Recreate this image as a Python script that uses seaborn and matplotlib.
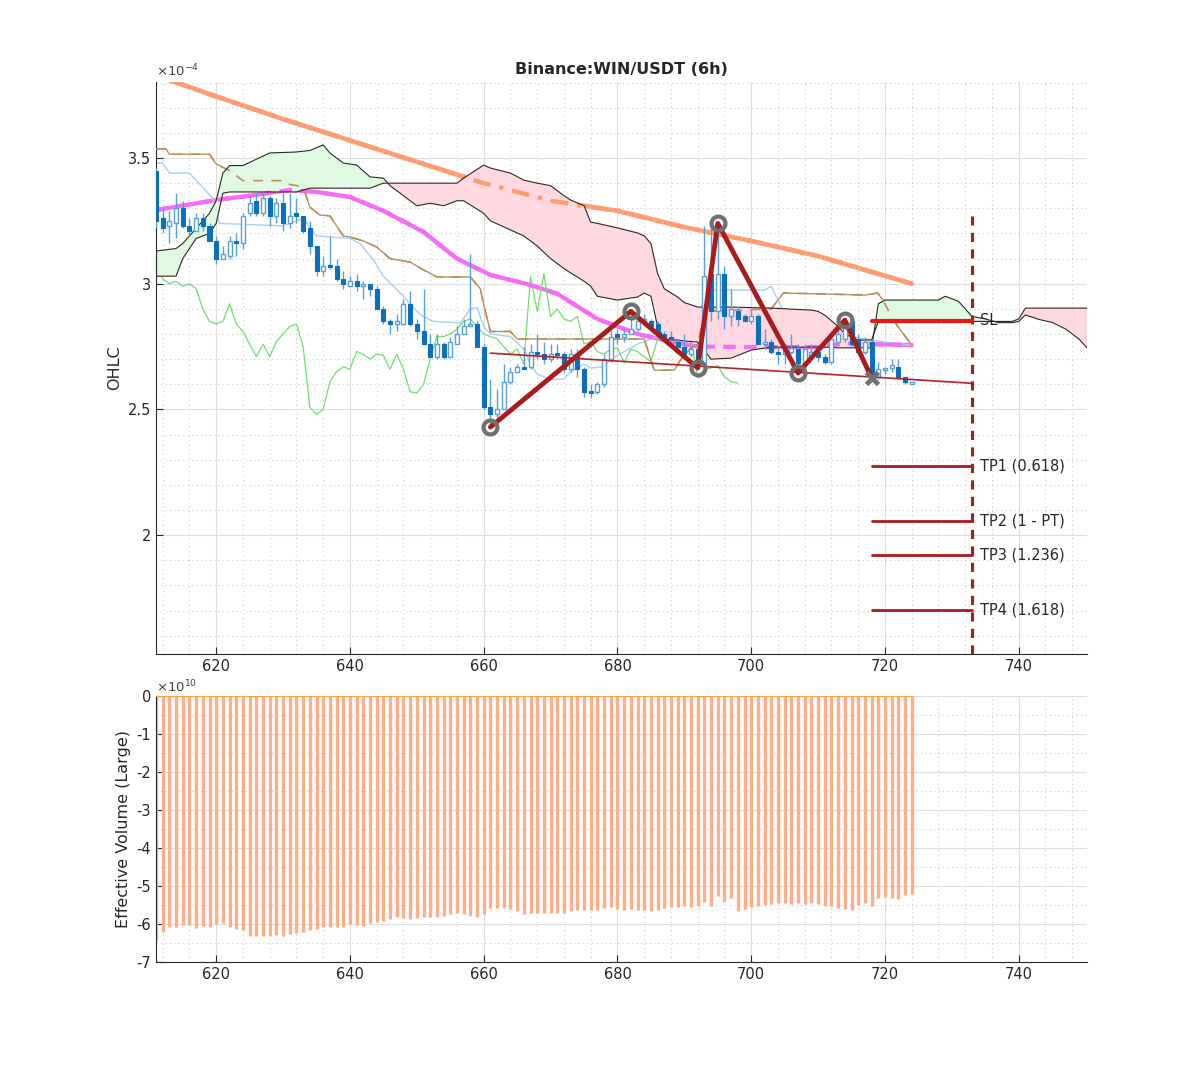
import numpy as np
import matplotlib
matplotlib.use("Agg")
import matplotlib.pyplot as plt
from matplotlib.ticker import MultipleLocator, FuncFormatter
import seaborn as sns

# prices are in units of 1e-4, volumes in units of 1e10
bar_start = 611

opens = [3.45, 3.26, 3.23, 3.24, 3.30, 3.23, 3.21, 3.26, 3.23, 3.17,
         3.10, 3.11, 3.17, 3.16, 3.28, 3.33, 3.28, 3.34, 3.27, 3.32,
         3.24, 3.28, 3.27, 3.22, 3.15, 3.05, 3.07, 3.07, 3.02, 2.99,
         3.01, 2.99, 3.00, 2.98, 2.90, 2.85, 2.84, 2.84, 2.92, 2.84,
         2.81, 2.76, 2.71, 2.76, 2.71, 2.76, 2.80, 2.83, 2.84, 2.75,
         2.51, 2.48, 2.50, 2.61, 2.65, 2.67, 2.67, 2.73, 2.72, 2.70,
         2.72, 2.72, 2.66, 2.72, 2.66, 2.57, 2.57, 2.60, 2.70, 2.80,
         2.79, 2.80, 2.82, 2.85, 2.85, 2.84, 2.80, 2.79, 2.77, 2.75,
         2.72, 2.74, 2.68, 3.04, 2.89, 3.04, 2.87, 2.89, 2.87, 2.85,
         2.87, 2.76, 2.77, 2.73, 2.72, 2.73, 2.74, 2.68, 2.71, 2.73,
         2.71, 2.69, 2.77, 2.78, 2.85, 2.78, 2.73, 2.77, 2.63, 2.655,
         2.665, 2.67, 2.63, 2.60]
highs = [3.46, 3.30, 3.29, 3.36, 3.33, 3.26, 3.28, 3.28, 3.24, 3.19,
         3.15, 3.19, 3.20, 3.28, 3.35, 3.37, 3.37, 3.35, 3.34, 3.36,
         3.36, 3.34, 3.27, 3.25, 3.15, 3.11, 3.19, 3.10, 3.05, 3.03,
         3.04, 3.01, 3.00, 2.99, 2.91, 2.86, 2.88, 2.94, 2.97, 2.86,
         2.98, 2.80, 2.80, 2.77, 2.79, 2.83, 2.86, 3.12, 2.85, 2.76,
         2.62, 2.58, 2.68, 2.67, 2.68, 2.75, 2.76, 2.80, 2.77, 2.76,
         2.76, 2.73, 2.74, 2.74, 2.67, 2.60, 2.61, 2.72, 2.81, 2.82,
         2.82, 2.89, 2.87, 2.88, 2.86, 2.85, 2.81, 2.81, 2.78, 2.80,
         2.75, 2.76, 3.23, 3.23, 3.24, 3.07, 2.98, 2.91, 2.88, 2.90,
         2.88, 2.82, 2.78, 2.75, 2.76, 2.80, 2.76, 2.76, 2.76, 2.75,
         2.72, 2.79, 2.82, 2.855, 2.86, 2.80, 2.79, 2.78, 2.69, 2.67,
         2.70, 2.70, 2.63, 2.61]
lows = [3.22, 3.20, 3.16, 3.18, 3.22, 3.19, 3.21, 3.21, 3.17, 3.08,
        3.10, 3.10, 3.11, 3.14, 3.27, 3.27, 3.27, 3.23, 3.24, 3.21,
        3.22, 3.24, 3.20, 3.12, 3.03, 3.03, 3.06, 3.01, 2.98, 2.99,
        2.97, 2.94, 2.95, 2.90, 2.84, 2.80, 2.81, 2.84, 2.83, 2.78,
        2.76, 2.71, 2.70, 2.70, 2.71, 2.76, 2.80, 2.83, 2.75, 2.50,
        2.43, 2.47, 2.50, 2.60, 2.65, 2.66, 2.66, 2.70, 2.68, 2.69,
        2.70, 2.65, 2.65, 2.63, 2.55, 2.545, 2.56, 2.59, 2.69, 2.76,
        2.77, 2.80, 2.81, 2.84, 2.82, 2.79, 2.77, 2.76, 2.75, 2.71,
        2.71, 2.665, 2.68, 2.85, 2.86, 2.82, 2.83, 2.83, 2.85, 2.84,
        2.76, 2.74, 2.72, 2.68, 2.68, 2.72, 2.645, 2.66, 2.70, 2.69,
        2.68, 2.68, 2.77, 2.77, 2.75, 2.72, 2.72, 2.625, 2.62, 2.64,
        2.65, 2.62, 2.60, 2.60]
closes = [3.25, 3.22, 3.25, 3.30, 3.23, 3.21, 3.26, 3.23, 3.17, 3.10,
          3.12, 3.17, 3.16, 3.27, 3.32, 3.28, 3.34, 3.27, 3.32, 3.24,
          3.27, 3.27, 3.21, 3.15, 3.05, 3.07, 3.065, 3.02, 3.00, 3.01,
          2.99, 3.00, 2.98, 2.90, 2.85, 2.84, 2.85, 2.92, 2.84, 2.81,
          2.76, 2.71, 2.76, 2.71, 2.77, 2.80, 2.83, 2.84, 2.75, 2.51,
          2.48, 2.50, 2.61, 2.65, 2.67, 2.66, 2.73, 2.72, 2.70, 2.72,
          2.715, 2.66, 2.72, 2.66, 2.57, 2.565, 2.60, 2.70, 2.79, 2.79,
          2.80, 2.82, 2.85, 2.86, 2.83, 2.80, 2.79, 2.78, 2.75, 2.72,
          2.74, 2.68, 3.03, 2.89, 3.04, 2.87, 2.90, 2.86, 2.85, 2.87,
          2.76, 2.77, 2.73, 2.72, 2.74, 2.745, 2.685, 2.74, 2.73, 2.71,
          2.69, 2.78, 2.80, 2.85, 2.76, 2.73, 2.77, 2.63, 2.66, 2.665,
          2.675, 2.63, 2.61, 2.605]

volume_large = [-6.42, -6.20, -6.07, -6.07, -6.03, -6.03, -6.11, -6.05, -6.07, -6.01,
                -5.97, -6.09, -6.14, -6.16, -6.31, -6.32, -6.33, -6.33, -6.29, -6.33,
                -6.27, -6.25, -6.22, -6.16, -6.14, -6.09, -6.07, -6.09, -6.07, -6.01,
                -6.03, -6.05, -5.98, -5.96, -5.91, -5.88, -5.82, -5.85, -5.86, -5.84,
                -5.82, -5.81, -5.82, -5.78, -5.74, -5.72, -5.75, -5.79, -5.82, -5.74,
                -5.59, -5.57, -5.59, -5.61, -5.66, -5.74, -5.70, -5.70, -5.72, -5.70,
                -5.72, -5.70, -5.66, -5.64, -5.64, -5.62, -5.62, -5.58, -5.56, -5.60,
                -5.62, -5.60, -5.62, -5.64, -5.66, -5.62, -5.58, -5.56, -5.56, -5.54,
                -5.56, -5.52, -5.41, -5.54, -5.26, -5.41, -5.32, -5.65, -5.61, -5.56,
                -5.54, -5.50, -5.47, -5.46, -5.45, -5.47, -5.46, -5.47, -5.46, -5.47,
                -5.52, -5.54, -5.59, -5.60, -5.63, -5.50, -5.45, -5.52, -5.32, -5.30,
                -5.32, -5.35, -5.24, -5.22]

# long moving average (orange) and medium moving average (magenta)
ma_long_x = [613, 620, 630, 640, 650, 660, 670, 680, 690, 700, 710, 724]
ma_long_y = [3.81, 3.745, 3.655, 3.57, 3.485, 3.40, 3.33, 3.29, 3.225, 3.17, 3.11, 3.00]
ma_mid_x = [611, 620, 625, 631, 635, 640, 645, 651, 656, 661, 667, 671, 677, 683,
            689, 692, 700, 710, 714, 718, 724]
ma_mid_y = [3.293, 3.333, 3.35, 3.373, 3.365, 3.345, 3.29, 3.206, 3.10, 3.035, 2.995,
            2.96, 2.86, 2.80, 2.764, 2.75, 2.748, 2.748, 2.762, 2.76, 2.756]

# conversion line (light blue) and base line (tan)
tenkan_x = [611, 612, 613, 616, 619.5, 620.5, 630, 632, 633, 635, 640, 641.5, 643.5,
            645, 646.5, 648, 650.5, 652.5, 656.5, 658, 659, 660, 661, 664, 666, 667,
            668, 670, 672, 673, 675, 676, 678, 679, 681, 683, 685, 687, 689, 692, 693,
            702, 703, 705, 707, 711, 714, 718, 724]
tenkan_y = [3.48, 3.48, 3.44, 3.44, 3.34, 3.24, 3.23, 3.25, 3.26, 3.19, 3.18, 3.16, 3.095,
            3.03, 2.99, 2.95, 2.876, 2.85, 2.844, 2.90, 2.905, 2.83, 2.80, 2.79, 2.74, 2.68,
            2.64, 2.62, 2.62, 2.65, 2.68, 2.665, 2.67, 2.70, 2.73, 2.76, 2.78, 2.80, 2.81,
            2.81, 2.975, 2.975, 2.99, 2.88, 2.80, 2.80, 2.795, 2.775, 2.755]
kijun_x = [611, 612.5, 613, 619, 620, 622, 624, 630, 631, 633, 634, 635.5, 637, 639, 640,
           642, 644, 646, 649, 651, 653, 658, 659.5, 660, 661, 664, 665, 684, 685.5,
           688.5, 689.5, 691, 692, 693, 703, 704.8, 717, 718.9, 719.7, 721.2, 724]
kijun_y = [3.536, 3.536, 3.515, 3.515, 3.476, 3.45, 3.41, 3.41, 3.395, 3.385, 3.305, 3.273,
           3.27, 3.19, 3.186, 3.17, 3.146, 3.10, 3.086, 3.055, 3.027, 3.027, 2.98, 2.915,
           2.81, 2.81, 2.78, 2.78, 2.656, 2.656, 2.70, 2.745, 2.76, 2.89, 2.90, 2.963,
           2.955, 2.963, 2.935, 2.856, 2.756]

# leading spans (cloud)
cloud_x = [611, 614, 615, 617, 619, 620, 621, 622, 624, 628, 632, 634, 636, 637, 639, 641,
           643, 645, 646, 648, 650, 652, 654, 656, 657, 660, 661, 664, 666, 668, 670, 672,
           673, 675, 676, 677, 680, 683, 684, 685, 686, 687, 689, 690, 692, 694, 697, 700,
           703, 709, 710, 711, 713, 714, 716, 718, 719, 720, 728, 729, 731, 732, 733, 735,
           737, 739, 740, 741, 743, 745, 747, 748, 749, 750.2]
span_a = [3.13, 3.14, 3.16, 3.22, 3.28, 3.33, 3.44, 3.47, 3.47, 3.52, 3.524, 3.53, 3.552,
          3.52, 3.48, 3.472, 3.425, 3.42, 3.39, 3.35, 3.31, 3.32, 3.31, 3.33, 3.33, 3.28,
          3.25, 3.214, 3.19, 3.15, 3.10, 3.06, 3.043, 3.01, 2.99, 2.95, 2.935, 2.947, 2.963,
          2.95, 2.83, 2.78, 2.776, 2.772, 2.768, 2.70, 2.704, 2.736, 2.748, 2.748, 2.748,
          2.748, 2.745, 2.745, 2.745, 2.745, 2.92, 2.935, 2.935, 2.95, 2.93, 2.90, 2.87,
          2.86, 2.845, 2.845, 2.85, 2.876, 2.858, 2.846, 2.82, 2.80, 2.78, 2.745]
span_b = [3.03, 3.03, 3.10, 3.18, 3.20, 3.24, 3.36, 3.365, 3.365, 3.365, 3.365, 3.38, 3.38,
          3.38, 3.38, 3.38, 3.38, 3.40, 3.40, 3.40, 3.40, 3.40, 3.40, 3.40, 3.42, 3.472,
          3.46, 3.44, 3.412, 3.40, 3.39, 3.35, 3.333, 3.31, 3.245, 3.24, 3.222, 3.202, 3.19,
          3.16, 3.04, 2.98, 2.947, 2.925, 2.907, 2.907, 2.907, 2.905, 2.903, 2.895, 2.89,
          2.875, 2.83, 2.80, 2.776, 2.776, 2.85, 2.85, 2.85, 2.85, 2.85, 2.85, 2.85, 2.85,
          2.85, 2.85, 2.86, 2.903, 2.903, 2.903, 2.903, 2.903, 2.903, 2.903]

# zigzag pivots and trade levels
pivot_x = [661, 682, 692, 695, 707, 714, 718]
pivot_y = [2.43, 2.89, 2.665, 3.24, 2.645, 2.855, 2.625]
trend_x = [661, 733]
trend_y = [2.724, 2.604]
tp_labels = ["TP1 (0.618)", "TP2 (1 - PT)", "TP3 (1.236)", "TP4 (1.618)"]
tp_levels = [2.275, 2.056, 1.921, 1.702]
sl_level = 2.852
target_x = [718, 733]
target_top = 3.27

x = np.arange(bar_start, bar_start + len(closes))
o, h, l, c = map(np.array, (opens, highs, lows, closes))

sns.set_style("white")
plt.rcParams["font.family"] = ["DejaVu Sans"]
plt.rcParams["axes.edgecolor"] = "#262626"

fig = plt.figure(figsize=(12, 10.8), dpi=100)
ax = fig.add_axes([0.13, 0.3944, 0.7758, 0.5296])
axv = fig.add_axes([0.13, 0.1093, 0.7758, 0.2463])

ylo, yhi = 1.527, 3.802

# indicator lines below the cloud, with a dashed copy on top of it
sns.lineplot(x=ma_long_x, y=ma_long_y, ax=ax, color="#FFA27C", lw=3.4, zorder=1)
ax.plot(ma_long_x, ma_long_y, color="#FF7F50", lw=1.4, ls=(0, (1, 1.6)), alpha=0.6, zorder=1)
ax.plot(ma_long_x, ma_long_y, color="#FF9C70", lw=3.2, ls=(0, (4, 2, 1, 2)), zorder=3)
sns.lineplot(x=ma_mid_x, y=ma_mid_y, ax=ax, color="#F66CF6", lw=3, zorder=1)
ax.plot(ma_mid_x, ma_mid_y, color="#F66CF6", lw=3, ls=(0, (3, 2)), zorder=3)
sns.lineplot(x=tenkan_x, y=tenkan_y, ax=ax, color="#A9CEFA", lw=1, zorder=1)
sns.lineplot(x=kijun_x, y=kijun_y, ax=ax, color="#B8915C", lw=1, zorder=1)
ax.plot(kijun_x, kijun_y, color="#B8915C", lw=1.2, ls=(0, (6, 5)), zorder=3)
sns.lineplot(x=x[:-26], y=c[26:], ax=ax, color="#6FE06F", lw=0.9, zorder=1)

ax.text(734.2, sl_level, "SL", fontsize=10.5, va="center", ha="left", zorder=1)

# cloud
ca, cb = np.array(span_a), np.array(span_b)
ax.fill_between(cloud_x, ca, cb, where=ca >= cb, interpolate=True,
                color="#E0FAE2", lw=0, zorder=2)
ax.fill_between(cloud_x, ca, cb, where=ca < cb, interpolate=True,
                color="#FFD8E1", lw=0, zorder=2)
ax.plot(cloud_x, span_a, color="#1E301E", lw=0.8, zorder=3)
ax.plot(cloud_x, span_b, color="#382020", lw=0.8, zorder=3)

# candles
up = c >= o
ax.vlines(x, l, h, colors="#5A9FDC", lw=1, zorder=4)
body = np.maximum(np.abs(c - o), 0.008)
ax.bar(x[~up], body[~up], bottom=np.minimum(o, c)[~up], width=0.6,
       color="#0B6FBE", edgecolor="#0B6FBE", lw=0.8, zorder=5)
ax.bar(x[up], body[up], bottom=np.minimum(o, c)[up], width=0.6,
       facecolor="white", edgecolor="#5A9FDC", lw=1, zorder=5)

# zigzag pattern
ax.plot(trend_x, trend_y, color="#B22222", lw=1.2, zorder=6)
ax.plot(pivot_x, pivot_y, color="#A81C1C", lw=3.5, zorder=6, solid_capstyle="round")
ax.plot(pivot_x[:-1], pivot_y[:-1], ls="none", marker="o", ms=10, mfc="none",
        mec="#707070", mew=3, zorder=7)
ax.plot(pivot_x[-1:], pivot_y[-1:], ls="none", marker="x", ms=8, mec="#707070",
        mew=3.5, zorder=7)

# targets
ax.vlines(target_x[1], ylo, target_top, colors="#A81C1C", lw=2.2,
          linestyles=(0, (3, 2.4)), zorder=6)
for lab, lev in zip(tp_labels, tp_levels):
    ax.plot(target_x, [lev, lev], color="#A81C1C", lw=2, zorder=6)
    ax.text(734.2, lev, lab, fontsize=10.5, va="center", ha="left", zorder=8)
ax.plot(target_x, [sl_level, sl_level], color="#EE1515", lw=3, zorder=6)

ax.set_xlim(611, 750.2)
ax.set_ylim(ylo, yhi)
ax.yaxis.set_major_locator(MultipleLocator(0.5))
ax.yaxis.set_minor_locator(MultipleLocator(0.1))
ax.yaxis.set_major_formatter(FuncFormatter(lambda v, p: f"{v:g}"))
ax.set_ylabel("OHLC", fontsize=11.5)
ax.set_title("Binance:WIN/USDT (6h)", fontsize=11.5, fontweight="bold", pad=6)
ax.text(0.0, 1.004, r"$\times$10$^{-4}$", transform=ax.transAxes, fontsize=9.5,
        ha="left", va="bottom", color="#404040")

# effective volume stems
vol = np.array(volume_large)
axv.vlines(x, vol, 0, colors="#FFAE8A", lw=2.4, zorder=2)
axv.plot([x[0], x[-1]], [0, 0], color="#F5A040", lw=1.5, zorder=3)
axv.set_xlim(611, 750.2)
axv.set_ylim(-7, 0)
axv.yaxis.set_major_locator(MultipleLocator(1))
axv.yaxis.set_minor_locator(MultipleLocator(0.5))
axv.yaxis.set_major_formatter(FuncFormatter(lambda v, p: f"{v:.0f}"))
axv.set_ylabel("Effective Volume (Large)", fontsize=11.5)
axv.text(0.0, 1.004, r"$\times$10$^{10}$", transform=axv.transAxes, fontsize=9.5,
         ha="left", va="bottom", color="#404040")

for a in (ax, axv):
    a.xaxis.set_major_locator(MultipleLocator(20))
    a.xaxis.set_minor_locator(MultipleLocator(4))
    a.grid(which="major", color="#DEDEDE", lw=0.8, zorder=0)
    a.grid(which="minor", color="#CDCDCD", lw=0.8, ls=(0, (1, 3)), zorder=0)
    a.set_axisbelow(True)
    a.tick_params(which="major", direction="in", length=5, labelsize=10.5,
                  colors="#262626", left=True, bottom=True)
    a.tick_params(which="minor", length=0)
    for s in ("top", "right"):
        a.spines[s].set_visible(False)
    for s in ("left", "bottom"):
        a.spines[s].set_linewidth(0.8)
    a.set_xlabel("")

fig.savefig("out.png", dpi=100, facecolor="white")
